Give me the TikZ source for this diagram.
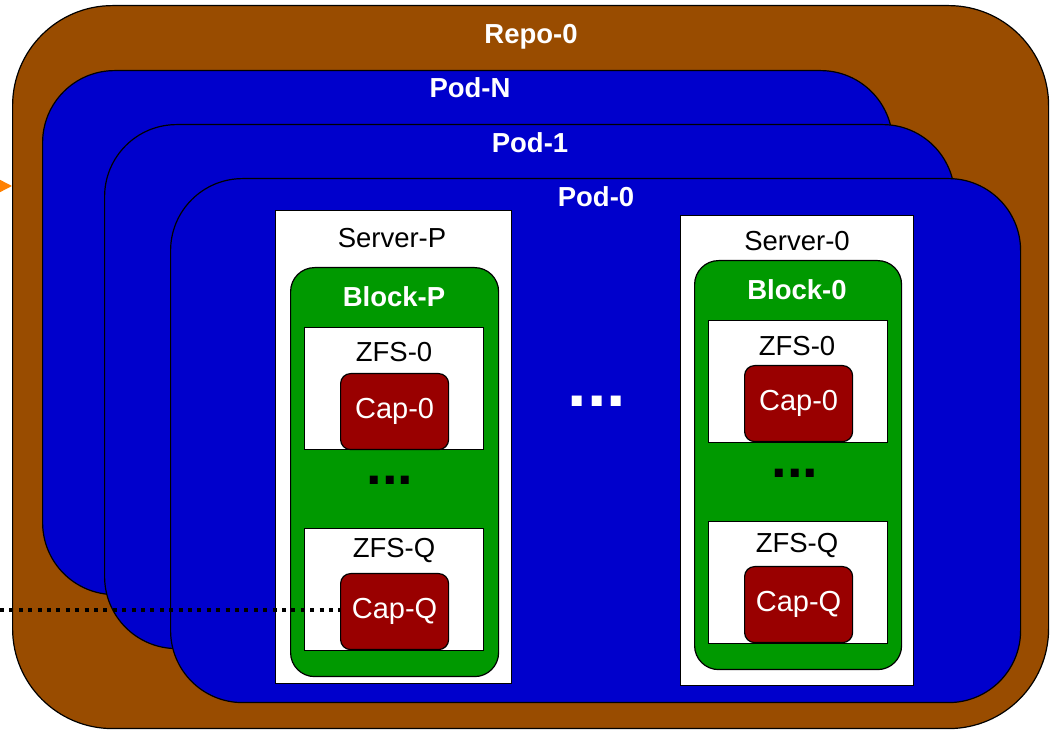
\documentclass[tikz,border=0pt]{standalone}
\usepackage{fontspec}
\setmainfont{Liberation Sans}
\usetikzlibrary{positioning,arrows.meta}

\definecolor{repobrown}{HTML}{994C00}
\definecolor{podblue}{HTML}{0000CC}
\definecolor{blockgreen}{HTML}{009900}
\definecolor{capred}{HTML}{990000}
\definecolor{linkorange}{HTML}{FF8000}

\begin{document}
\begin{tikzpicture}[x=0.5pt, y=-0.5pt,
  every node/.style={font=\fontsize{13.75}{16}\selectfont},
  box/.style={draw, line width=0.6pt, anchor=north west, inner sep=0pt},
  pod/.style={box, fill=podblue, rounded corners=36pt,
    minimum width=425pt, minimum height=262pt},
  server/.style={box, fill=white, minimum height=236.5pt},
  block/.style={box, fill=blockgreen, rounded corners=12pt,
    minimum width=104pt, minimum height=204.5pt},
  zfs/.style={box, fill=white, minimum width=89.5pt, minimum height=61pt},
  capbox/.style={box, fill=capred, rounded corners=5pt, text=white,
    minimum width=54pt, minimum height=38pt,
    font=\fontsize{14.5}{16}\selectfont},
  title/.style={text=white, font=\fontsize{13.75}{16}\selectfont\bfseries},
  tag/.style={text=black},
  more/.style={font=\fontsize{28}{30}\selectfont\bfseries}]

  \useasboundingbox (0,0) rectangle (1056,731);

  % outer containers
  \node[box, fill=repobrown, rounded corners=50pt,
    minimum width=518pt, minimum height=361.5pt] (repo) at (12,5) {};
  \node[pod] (podN) at (42,70) {};
  \node[pod] (pod1) at (104,124) {};
  \node[pod] (pod0) at (170,178) {};

  % servers
  \node[server, minimum width=118pt] (serverP) at (275,210) {};
  \node[server, minimum width=116.5pt, minimum height=235pt] (server0) at (680,215) {};

  \node[block] (blockP) at (290,267) {};
  \node[block, minimum width=103.5pt] (block0) at (694,260) {};

  \node[zfs] (zfsP0) at (304,327) {};
  \node[zfs] (zfsPQ) at (304,528) {};
  \node[zfs] (zfs00) at (708,320) {};
  \node[zfs] (zfs0Q) at (708,521) {};

  \node[capbox] (capP0) at (340,373) {Cap-0};
  \node[capbox] (capPQ) at (340,573) {Cap-Q};
  \node[capbox] (cap00) at (744,365) {Cap-0};
  \node[capbox] (cap0Q) at (744,566) {Cap-Q};

  % titles
  \node[title] (repoT) at (531,37) {Repo-0};
  \node[title] (podNT) at (470,88) {Pod-N};
  \node[title] (pod1T) at (530,143) {Pod-1};
  \node[title] (pod0T) at (596,197) {Pod-0};
  \node[tag] (serverPT) at (392,238) {Server-P};
  \node[tag] (server0T) at (797,241) {Server-0};
  \node[title] (blockPT) at (394,297) {Block-P};
  \node[title] (block0T) at (797,290) {Block-0};
  \node[tag] (zfsP0T) at (394,352) {ZFS-0};
  \node[tag] (zfsPQT) at (394,551) {ZFS-Q};
  \node[tag] (zfs00T) at (797,346) {ZFS-0};
  \node[tag] (zfs0QT) at (797,546) {ZFS-Q};

  \node[more] (moreP) at (390,480) {...};
  \node[more] (more0) at (795,473) {...};
  \node[more, text=white, font=\fontsize{35}{36}\selectfont\bfseries] (moreS) at (597,401) {...};

  % links from outside
  \coordinate (orangein) at (-40,186);
  \draw[linkorange, line width=0.8pt, -{Triangle[length=7pt, width=7pt]}]
    (orangein) -- (orangein -| repo.west);
  \coordinate (dotin) at (0,610);
  \draw[line width=2pt, dash pattern=on 2pt off 2.7pt] (dotin) -- (dotin -| capPQ.west);
\end{tikzpicture}
\end{document}
